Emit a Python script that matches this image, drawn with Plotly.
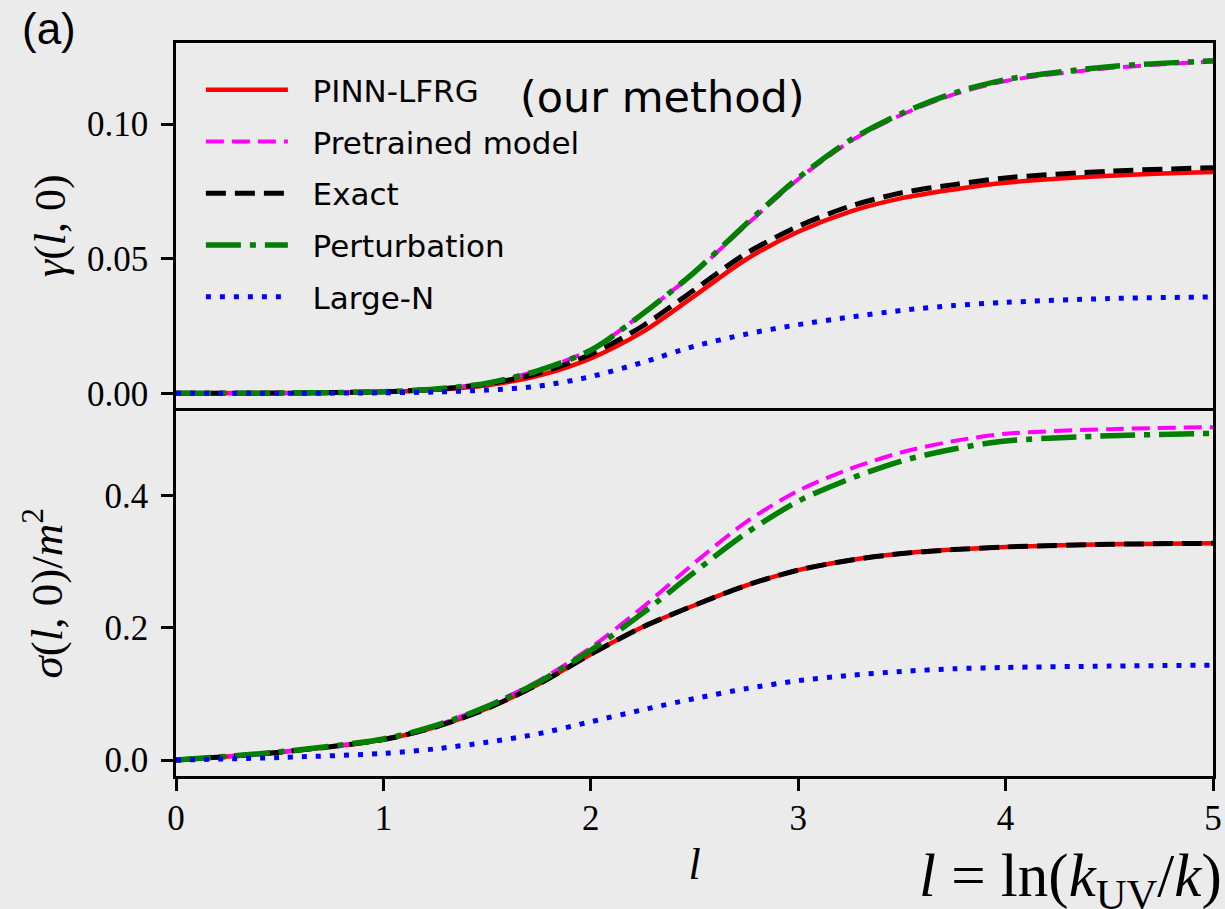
import plotly.graph_objects as go
from plotly.subplots import make_subplots

l_vals = [0, 0.5, 1.0, 1.25, 1.5, 1.75, 2.0, 2.25, 2.5, 2.75, 3.0, 3.25, 3.5, 3.75, 4.0, 4.5, 5.0]

# gamma(l,0)
gamma_pinn = [0, 0.0001, 0.0005, 0.0013, 0.003, 0.0066, 0.013, 0.0228, 0.0362, 0.0498, 0.0600, 0.0675, 0.0725, 0.0757, 0.0782, 0.0808, 0.0822]
gamma_pretrained = [0, 0.0001, 0.0006, 0.0016, 0.0038, 0.0086, 0.0162, 0.0296, 0.0448, 0.0625, 0.0795, 0.0935, 0.1035, 0.111, 0.116, 0.1208, 0.1232]
gamma_exact = [0, 0.0001, 0.0006, 0.0015, 0.0035, 0.0075, 0.0145, 0.025, 0.0385, 0.052, 0.062, 0.0695, 0.0745, 0.0775, 0.0800, 0.0825, 0.0838]
gamma_pert = [0, 0.0001, 0.0006, 0.0016, 0.0038, 0.0085, 0.016, 0.0295, 0.045, 0.063, 0.080, 0.094, 0.104, 0.1115, 0.1165, 0.1213, 0.1235]
gamma_largeN = [0, 0, 0.0002, 0.0005, 0.0012, 0.0027, 0.0062, 0.0115, 0.0175, 0.022, 0.0255, 0.0283, 0.0308, 0.0326, 0.0338, 0.0352, 0.0358]

# sigma(l,0)/m^2
sigma_pinn = [0, 0.012, 0.031, 0.050, 0.078, 0.115, 0.160, 0.201, 0.234, 0.264, 0.287, 0.302, 0.312, 0.318, 0.322, 0.326, 0.3275]
sigma_pretrained = [0, 0.0125, 0.032, 0.052, 0.082, 0.12, 0.170, 0.231, 0.298, 0.360, 0.407, 0.440, 0.465, 0.482, 0.493, 0.500, 0.503]
sigma_exact = [0, 0.012, 0.031, 0.050, 0.078, 0.115, 0.160, 0.201, 0.234, 0.264, 0.287, 0.302, 0.312, 0.318, 0.322, 0.326, 0.3275]
sigma_pert = [0, 0.0125, 0.032, 0.052, 0.081, 0.118, 0.166, 0.222, 0.284, 0.343, 0.391, 0.425, 0.452, 0.47, 0.482, 0.490, 0.4935]
sigma_largeN = [0, 0.004, 0.010, 0.017, 0.027, 0.040, 0.058, 0.076, 0.093, 0.108, 0.120, 0.128, 0.134, 0.138, 0.140, 0.142, 0.1435]

names = ["PINN-LFRG", "Pretrained model", "Exact", "Perturbation", "Large-N"]
colors = ["#ff0000", "#ff00ff", "#000000", "#008000", "#0000ff"]
dashes = ["solid", "18px,8px", "20px,9px", "35px,9px,6px,9px", "5px,9px"]
widths = [4.5, 4, 5, 5.5, 5]

top_series = [gamma_pinn, gamma_pretrained, gamma_exact, gamma_pert, gamma_largeN]
bot_series = [sigma_pinn, sigma_pretrained, sigma_exact, sigma_pert, sigma_largeN]

fig = make_subplots(rows=2, cols=1, shared_xaxes=True, vertical_spacing=0.003)

nb = "\u00a0\u00a0"
for i in range(5):
    fig.add_trace(go.Scatter(x=l_vals, y=top_series[i], mode="lines", name=nb + names[i],
                             line=dict(color=colors[i], dash=dashes[i], width=widths[i], shape="spline", smoothing=0.8),
                             legendgroup=f"g{i}", showlegend=True), row=1, col=1)
for i in range(5):
    fig.add_trace(go.Scatter(x=l_vals, y=bot_series[i], mode="lines", name=nb + names[i],
                             line=dict(color=colors[i], dash=dashes[i], width=widths[i], shape="spline", smoothing=0.8),
                             legendgroup=f"g{i}", showlegend=False), row=2, col=1)

bg = "#ebebeb"
tickfont = dict(family="Liberation Serif", size=35, color="black")
axis_common = dict(showline=True, linecolor="black", linewidth=2.5, mirror=True,
                   ticks="outside", ticklen=12, tickwidth=2.5, tickcolor="black",
                   showgrid=False, zeroline=False, tickfont=tickfont, automargin=False)

fig.update_xaxes(range=[0, 5], tickvals=[0, 1, 2, 3, 4, 5], **axis_common)
fig.update_xaxes(showticklabels=False, ticks="", row=1, col=1)
fig.update_xaxes(title=dict(text="<i>l</i>", font=dict(family="Liberation Serif", size=44, color="black"), standoff=12),
                 ticklabelstandoff=-3, row=2, col=1)

fig.update_yaxes(range=[-0.0056, 0.1301], tickvals=[0, 0.05, 0.10], tickformat=".2f",
                 title=dict(text="<i>γ</i>(<i>l</i>, 0)", font=dict(family="Liberation Serif", size=44, color="black"), standoff=8),
                 ticklabelstandoff=6, row=1, col=1, **axis_common)
fig.update_yaxes(range=[-0.024, 0.528], tickvals=[0, 0.2, 0.4], tickformat=".1f",
                 title=dict(text="<i>σ</i>(<i>l</i>, 0)/<i>m</i><sup>2</sup>", font=dict(family="Liberation Serif", size=45, color="black"), standoff=28),
                 ticklabelstandoff=6, row=2, col=1, **axis_common)

fig.update_layout(
    width=1225, height=909,
    paper_bgcolor=bg, plot_bgcolor=bg,
    margin=dict(l=176, r=12, t=43, b=133, autoexpand=False),
    showlegend=True,
    legend=dict(x=0.024, y=0.9727, xanchor="left", yanchor="top", bgcolor="rgba(0,0,0,0)",
                font=dict(family="DejaVu Sans", size=31, color="black"),
                itemwidth=82, tracegroupgap=8.5, traceorder="grouped"),
    annotations=[
        dict(text="(a)", xref="paper", yref="paper", x=-176/1037 + 20/1037, y=1 + (43 - 29) / 733,
             xanchor="left", yanchor="middle", showarrow=False,
             font=dict(family="Liberation Sans", size=44, color="black")),
        dict(text="(our method)", xref="paper", yref="paper", x=(518 - 176) / 1037, y=1 - (97 - 43) / 733,
             xanchor="left", yanchor="middle", showarrow=False,
             font=dict(family="DejaVu Sans", size=43, color="black")),
        dict(text="<i>l</i> = ln(<i>k</i><sub>UV</sub>/<i>k</i>)", xref="paper", yref="paper",
             x=(1224 - 176) / 1037, y=-(880 - 776) / 733,
             xanchor="right", yanchor="middle", showarrow=False,
             font=dict(family="Liberation Serif", size=61, color="black")),
    ],
)

fig.write_html("out.html")
